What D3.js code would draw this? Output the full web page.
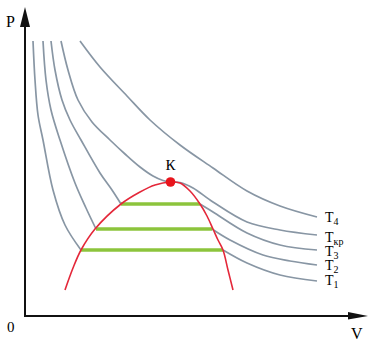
<!DOCTYPE html>
<html><head><meta charset="utf-8">
<script src="https://cdn.jsdelivr.net/npm/d3@7"></script>
<style>html,body{margin:0;padding:0;background:#fff;overflow:hidden}svg{display:block}</style>
</head><body>
<svg id="c" width="383" height="342"></svg>
<script>
// ---- data (V, P in arbitrary units) ----
const t1Left  = [[0.8,27.5],[1.0,23.6],[1.3,20.1],[1.8,17.6],[2.8,12.6],[4.0,9.1],[5.6,6.6]];
const t1Right = [[19.8,6.6],[22.2,5.3],[25.5,4.1],[29.2,3.5]];
const t2Left  = [[1.8,27.5],[2.1,23.6],[2.6,20.6],[3.5,17.6],[5.0,13.3],[6.1,10.8],[7.1,8.7]];
const t2Right = [[18.7,8.7],[20.5,7.6],[23.8,6.1],[26.5,5.5],[29.2,5.1]];
const t3Left  = [[2.6,27.5],[3.0,24.6],[3.7,21.6],[4.5,19.6],[5.6,17.6],[7.5,14.3],[8.7,12.6],[9.6,11.2]];
const t3Right = [[17.5,11.2],[18.8,10.4],[22.2,8.3],[25.5,7.1],[29.2,6.6]];
const tkr     = [[3.6,27.5],[4.3,24.6],[5.3,21.6],[6.7,19.4],[8.5,17.6],[10.0,16.2],[11.5,14.9],[12.8,14.0],[13.8,13.55],[14.5,13.4],[15.5,13.35],[16.8,12.8],[18.8,11.4],[22.2,9.4],[25.5,8.6],[29.2,8.1]];
const t4      = [[5.5,27.5],[7.5,24.9],[10.2,22.0],[12.5,19.6],[15.5,17.1],[18.8,14.8],[22.2,12.5],[25.5,11.0],[29.2,9.9]];
const dome    = [[4.0,2.6],[4.8,4.8],[5.6,6.6],[7.0,8.7],[9.6,11.2],[11.5,12.4],[13.0,13.1],[14.5,13.4],[15.5,13.3],[16.5,12.5],[17.5,11.2],[18.2,10.0],[18.8,8.7],[19.3,7.6],[19.8,6.6],[20.3,4.6],[20.8,2.6]];
const plateaus = [[9.6,17.5,11.2],[7.1,18.7,8.7],[5.6,19.8,6.6]]; // [Vleft, Vright, P]
const critical = [14.55,13.4];
const labelSubs = ["4","кр","3","2","1"];
const labelEnds = [t4, tkr, t3Right, t2Right, t1Right];

// ---- drawing ----
const svg = d3.select("#c");
const FONT = "'Liberation Serif', 'Times New Roman', 'DejaVu Serif', serif";
const x = d3.scaleLinear().domain([0,34.3]).range([25,368]);
const y = d3.scaleLinear().domain([0,30.9]).range([316,7]);
const line = d3.line().x(d=>x(d[0])).y(d=>y(d[1])).curve(d3.curveCatmullRom.alpha(0.5));

const gray = "#8896a4", red = "#e4283a", green = "#8cc43c";

// isotherms
[t1Left,t1Right,t2Left,t2Right,t3Left,t3Right,tkr,t4].forEach(pts=>{
  svg.append("path").attr("d",line(pts)).attr("fill","none")
     .attr("stroke",gray).attr("stroke-width",1.7);
});
// plateaus
svg.selectAll(".pl").data(plateaus).enter().append("line")
  .attr("x1",d=>x(d[0])).attr("x2",d=>x(d[1]))
  .attr("y1",d=>y(d[2])).attr("y2",d=>y(d[2]))
  .attr("stroke",green).attr("stroke-width",3.5);
// dome
svg.append("path").attr("d",line(dome)).attr("fill","none")
   .attr("stroke",red).attr("stroke-width",1.6);
// critical point
svg.append("circle").attr("cx",x(critical[0])).attr("cy",y(critical[1])).attr("r",4.8).attr("fill","#e8141c");
svg.append("text").attr("x",x(critical[0])).attr("y",y(critical[1])-12)
   .attr("text-anchor","middle").style("font-family",FONT).style("font-size","15px").text("К");

// axes
const ax = svg.append("g").attr("fill","#111").attr("stroke","#111");
ax.append("line").attr("x1",x(0)).attr("x2",x(0)).attr("y1",y(0)+1).attr("y2",y(29)).attr("stroke-width",2);
ax.append("line").attr("x1",x(0)-1).attr("x2",x(32.5)).attr("y1",y(0)).attr("y2",y(0)).attr("stroke-width",2);
ax.append("path").attr("stroke","none")
  .attr("d",`M${x(0)},${y(30.9)} L${x(0)+5},${y(28.9)} L${x(0)-5},${y(28.9)} Z`);
ax.append("path").attr("stroke","none")
  .attr("d",`M${x(34.3)},${y(0)} L${x(32.3)},${y(0)-4} L${x(32.3)},${y(0)+3.5} Z`);

function txt(xx,yy,s,size){return svg.append("text").attr("x",xx).attr("y",yy)
  .style("font-family",FONT).style("font-size",size+"px").text(s);}
txt(6,27,"P",16);
txt(7,332,"0",15);
txt(351,339,"V",16);

// isotherm labels
const labelDy = [5,7,6,5,4];
labelEnds.forEach((pts,i)=>{
  const e = pts[pts.length-1];
  const t = svg.append("text").attr("x",x(e[0])+8).attr("y",y(e[1])+labelDy[i])
    .style("font-family",FONT).style("font-size","14px");
  t.append("tspan").text("T");
  t.append("tspan").attr("dy",2.5).style("font-size","10px").text(labelSubs[i]);
});
</script>
</body></html>
